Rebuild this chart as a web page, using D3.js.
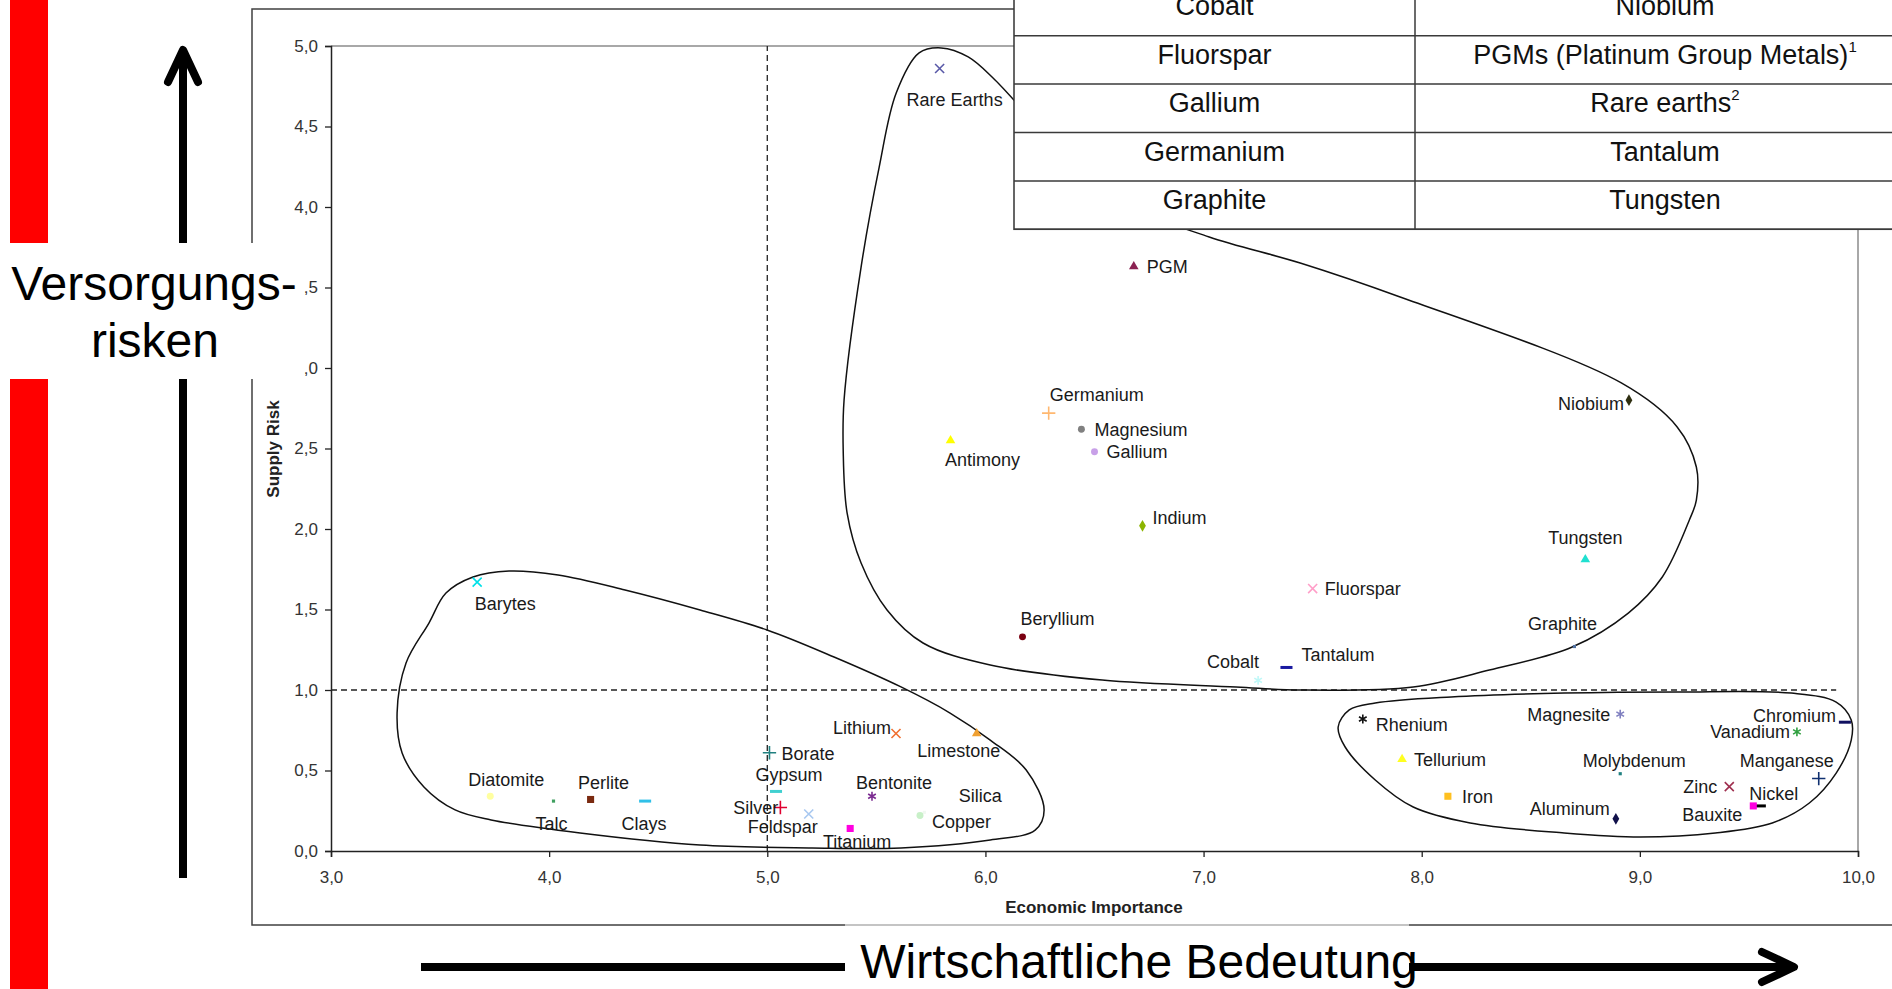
<!DOCTYPE html>
<html>
<head>
<meta charset="utf-8">
<script src="https://cdn.jsdelivr.net/npm/d3@7"></script>
<style>
  body { margin: 0; background: #fff; }
  svg { display: block; font-family: "Liberation Sans", Arial, sans-serif; }
</style>
</head>
<body>
<script>
// values (economic importance, supply risk)
var minerals = ["Rare Earths", "PGM", "Germanium", "Magnesium", "Gallium", "Antimony", "Indium",
  "Niobium", "Tungsten", "Fluorspar", "Graphite", "Beryllium", "Cobalt", "Tantalum",
  "Barytes", "Diatomite", "Talc", "Perlite", "Clays", "Borate", "Gypsum", "Silver", "Feldspar",
  "Titanium", "Lithium", "Limestone", "Bentonite", "Silica", "Copper",
  "Rhenium", "Tellurium", "Iron", "Aluminum", "Magnesite", "Molybdenum", "Chromium",
  "Vanadium", "Manganese", "Zinc", "Nickel", "Bauxite"];
var econImportance = [5.79, 6.68, 6.29, 6.44, 6.50, 5.84, 6.72,
  8.95, 8.75, 7.50, 8.70, 6.17, 7.25, 7.38,
  3.67, 3.73, 4.02, 4.19, 4.44, 5.01, 5.04, 5.06, 5.19,
  5.38, 5.59, 5.96, 5.48, 5.72, 5.70,
  7.73, 7.91, 8.12, 8.89, 8.91, 8.91, 9.94,
  9.72, 9.82, 9.41, 9.55, 9.52];
var supplyRisk = [4.86, 3.63, 2.72, 2.62, 2.48, 2.55, 2.02,
  2.80, 1.81, 1.63, 1.27, 1.33, 1.06, 1.14,
  1.67, 0.34, 0.31, 0.32, 0.31, 0.61, 0.37, 0.27, 0.23,
  0.14, 0.73, 0.73, 0.34, 0.24, 0.22,
  0.82, 0.57, 0.34, 0.20, 0.85, 0.48, 0.80,
  0.74, 0.45, 0.40, 0.28, 0.28];

var xTicks = [3, 4, 5, 6, 7, 8, 9, 10];
var yTicks = [0, 0.5, 1, 1.5, 2, 2.5, 3, 3.5, 4, 4.5, 5];
var riskThreshold = 1.0;
var importanceThreshold = 5.0;

// table of critical raw materials (top right)
var tableLeft = ["Cobalt", "Fluorspar", "Gallium", "Germanium", "Graphite"];
var tableRight = ["Niobium", "PGMs (Platinum Group Metals)", "Rare earths", "Tantalum", "Tungsten"];
var tableNotes = ["", "1", "2", "", ""];

// hand-drawn group outlines, in data units
var loopCritical = [[5.797, 4.988], [5.921, 4.932], [6.044, 4.789], [6.34, 4.36], [6.66, 4.01],
  [7.026, 3.814], [7.443, 3.652], [7.901, 3.441], [8.915, 2.907], [9.171, 2.634], [9.259, 2.385],
  [9.259, 2.18], [9.227, 2.056], [9.103, 1.702], [8.947, 1.478], [8.690, 1.267], [8.310, 1.124],
  [7.961, 1.019], [7.443, 1.0], [7.149, 1.019], [6.535, 1.062], [6.022, 1.155], [5.714, 1.292],
  [5.549, 1.497], [5.430, 1.789], [5.366, 2.099], [5.348, 2.491], [5.352, 2.801], [5.430, 3.627],
  [5.513, 4.248], [5.591, 4.708], [5.696, 4.957]];
var loopLowRisk = [[3.527, 1.602], [3.651, 1.702], [3.816, 1.739], [4.041, 1.714], [4.348, 1.621],
  [4.692, 1.497], [4.999, 1.373], [5.306, 1.205], [5.613, 1.019], [5.838, 0.857], [6.022, 0.689],
  [6.187, 0.503], [6.269, 0.255], [6.228, 0.130], [6.022, 0.068], [5.613, 0.019], [5.205, 0.019],
  [4.692, 0.037], [4.142, 0.112], [3.734, 0.193], [3.569, 0.255], [3.426, 0.398], [3.326, 0.609],
  [3.303, 0.857], [3.344, 1.168], [3.449, 1.416]];
var loopImportant = [[7.617, 0.770], [7.668, 0.876], [7.787, 0.919], [8.135, 0.957], [8.653, 0.981],
  [9.171, 0.988], [9.694, 0.981], [9.900, 0.925], [9.969, 0.814], [9.969, 0.689], [9.900, 0.484],
  [9.777, 0.298], [9.607, 0.174], [9.346, 0.112], [9.002, 0.087], [8.653, 0.112], [8.222, 0.174],
  [7.961, 0.273], [7.787, 0.441], [7.649, 0.646]];

// marker shape and colour per mineral
var markerStyle = {
  "Rare Earths": ["x", "#5a5aa8"], "PGM": ["tri", "#8b2252"], "Germanium": ["plus", "#ffb870"],
  "Magnesium": ["circle", "#808080"], "Gallium": ["circle", "#c8a0e8"], "Antimony": ["tri", "#ffff00"],
  "Indium": ["diamond", "#8cb400"], "Niobium": ["diamond", "#2e2e10"], "Tungsten": ["tri", "#20e0d0"],
  "Fluorspar": ["x", "#ff9ec8"], "Graphite": ["dot", "#5070a0"], "Beryllium": ["circle", "#7a0010"],
  "Cobalt": ["star", "#c0f8f8"], "Tantalum": ["dash", "#1a1aa0"], "Barytes": ["x", "#00e0e8"],
  "Diatomite": ["circle", "#ffffa0"], "Talc": ["dot", "#40a060"], "Perlite": ["square", "#7a2a10"],
  "Clays": ["dash", "#30c0e8"], "Borate": ["plus", "#208080"], "Gypsum": ["dash", "#40d0d0"],
  "Silver": ["plus", "#e00030"], "Feldspar": ["x", "#a8c8f0"], "Titanium": ["square", "#ff00e0"],
  "Lithium": ["x", "#f07030"], "Limestone": ["tri", "#f0a030"], "Bentonite": ["star", "#7a2a90"],
  "Silica": ["dot", "#f0f8f0"], "Copper": ["circle", "#c8f0c8"], "Rhenium": ["star", "#111111"],
  "Tellurium": ["tri", "#ffff20"], "Iron": ["square", "#ffc020"], "Aluminum": ["diamond", "#10104a"],
  "Magnesite": ["star", "#8080c0"], "Molybdenum": ["dot", "#208080"], "Chromium": ["dash", "#101060"],
  "Vanadium": ["star", "#30a040"], "Manganese": ["plus", "#103070"], "Zinc": ["x", "#a03050"],
  "Nickel": ["dash", "#000000"], "Bauxite": ["square", "#ff00e0"]
};

// label placement: [dx, dy, anchor]
var labelPos = {
  "Rare Earths": [15, 31, "middle"], "PGM": [13, 0, "start"], "Germanium": [48, -19, "middle"],
  "Magnesium": [13, 0, "start"], "Gallium": [12, 0, "start"], "Antimony": [32, 19, "middle"],
  "Indium": [10, -8, "start"], "Niobium": [-5, 3, "end"], "Tungsten": [0, -22, "middle"],
  "Fluorspar": [12, 0, "start"], "Graphite": [-12, -23, "middle"], "Beryllium": [-2, -18, "start"],
  "Cobalt": [-25, -19, "middle"], "Tantalum": [15, -13, "start"], "Barytes": [28, 21, "middle"],
  "Diatomite": [16, -17, "middle"], "Talc": [-2, 22, "middle"], "Perlite": [13, -17, "middle"],
  "Clays": [-1, 22, "middle"], "Borate": [12, 1, "start"], "Gypsum": [13, -17, "middle"],
  "Silver": [-2, 0, "end"], "Feldspar": [-26, 13, "middle"], "Titanium": [7, 13, "middle"],
  "Lithium": [-5, -6, "end"], "Limestone": [-18, 17, "middle"], "Bentonite": [22, -14, "middle"],
  "Silica": [56, -17, "middle"], "Copper": [12, 6, "start"], "Rhenium": [13, 6, "start"],
  "Tellurium": [12, 0, "start"], "Iron": [14, 0, "start"], "Aluminum": [-6, -10, "end"],
  "Magnesite": [-10, 0, "end"], "Molybdenum": [14, -13, "middle"], "Chromium": [-9, -7, "end"],
  "Vanadium": [-7, 0, "end"], "Manganese": [-32, -18, "middle"], "Zinc": [-12, 0, "end"],
  "Nickel": [14, -12, "middle"], "Bauxite": [-11, 9, "end"]
};

var W = 1892, H = 989;
var svg = d3.select("body").append("svg").attr("width", W).attr("height", H);

var x = d3.scaleLinear().domain([3, 10]).range([331, 1858]);
var y = d3.scaleLinear().domain([0, 5]).range([851, 46]);
var fmt = d3.formatLocale({decimal: ",", thousands: ".", grouping: [3], currency: ["", ""]}).format(".1f");

// red bar on the left
svg.append("rect").attr("x", 10).attr("y", 0).attr("width", 38).attr("height", H).attr("fill", "#ff0000");

// chart frame
svg.append("rect").attr("x", 252).attr("y", 9).attr("width", 1750).attr("height", 916)
  .attr("fill", "none").attr("stroke", "#404040").attr("stroke-width", 1.5);

// plot area border (top and right)
svg.append("path")
  .attr("d", "M" + x(3) + "," + y(5) + "H" + x(10) + "V" + y(0))
  .attr("fill", "none").attr("stroke", "#8c8c8c").attr("stroke-width", 1.5);

// threshold lines
svg.append("line")
  .attr("x1", x(importanceThreshold)).attr("x2", x(importanceThreshold))
  .attr("y1", y(0)).attr("y2", y(5))
  .attr("stroke", "#222").attr("stroke-width", 1.3).attr("stroke-dasharray", "6,4");
svg.append("line")
  .attr("x1", x(3)).attr("x2", x(9.9))
  .attr("y1", y(riskThreshold)).attr("y2", y(riskThreshold))
  .attr("stroke", "#222").attr("stroke-width", 1.3).attr("stroke-dasharray", "6,4");

// group outlines
var loopLine = d3.line()
  .x(function(d) { return x(d[0]); })
  .y(function(d) { return y(d[1]); })
  .curve(d3.curveCatmullRomClosed.alpha(0.5));
svg.selectAll(".loop")
  .data([loopCritical, loopLowRisk, loopImportant])
  .enter().append("path")
  .attr("class", "loop")
  .attr("d", loopLine)
  .attr("fill", "none").attr("stroke", "#111").attr("stroke-width", 1.5);

// axes
var xAxis = svg.append("g").attr("transform", "translate(0," + y(0) + ")")
  .call(d3.axisBottom(x).tickValues(xTicks).tickFormat(fmt).tickSize(6).tickPadding(14));
var yAxis = svg.append("g").attr("transform", "translate(" + x(3) + ",0)")
  .call(d3.axisLeft(y).tickValues(yTicks).tickFormat(fmt).tickSize(6).tickPadding(7));
[xAxis, yAxis].forEach(function(g) {
  g.select(".domain").attr("stroke", "#222").attr("stroke-width", 1.5);
  g.selectAll(".tick line").attr("stroke", "#222").attr("stroke-width", 1.3);
  g.selectAll(".tick text").attr("font-family", "Liberation Sans, Arial, sans-serif")
    .attr("font-size", 17).attr("fill", "#333");
});

svg.append("text").attr("x", 1094).attr("y", 913)
  .attr("text-anchor", "middle").attr("font-size", 17).attr("font-weight", "bold").attr("fill", "#222")
  .text("Economic Importance");
svg.append("text").attr("transform", "translate(279,449) rotate(-90)")
  .attr("text-anchor", "middle").attr("font-size", 17).attr("font-weight", "bold").attr("fill", "#222")
  .text("Supply Risk");

// markers
var dashSymbol = { draw: function(ctx, size) { var w = Math.sqrt(size) * 0.55; ctx.moveTo(-w, 0); ctx.lineTo(w, 0); } };
var symbolTypes = {
  circle: [d3.symbolCircle, 38, true], tri: [d3.symbolTriangle, 40, true], diamond: [d3.symbolDiamond, 40, true],
  square: [d3.symbolSquare, 50, true], dot: [d3.symbolSquare, 10, true],
  x: [d3.symbolX, 55, false], plus: [d3.symbolPlus, 60, false], star: [d3.symbolAsterisk, 55, false],
  dash: [dashSymbol, 120, false]
};

var pts = minerals.map(function(name, i) {
  return { name: name, ei: econImportance[i], sr: supplyRisk[i] };
});

svg.selectAll(".mk").data(pts).enter().append("path")
  .attr("class", "mk")
  .attr("transform", function(d) { return "translate(" + x(d.ei) + "," + y(d.sr) + ")"; })
  .attr("d", function(d) {
    var t = symbolTypes[markerStyle[d.name][0]];
    return d3.symbol().type(t[0]).size(t[1])();
  })
  .attr("fill", function(d) { return symbolTypes[markerStyle[d.name][0]][2] ? markerStyle[d.name][1] : "none"; })
  .attr("stroke", function(d) { return symbolTypes[markerStyle[d.name][0]][2] ? "none" : markerStyle[d.name][1]; })
  .attr("stroke-width", function(d) { return markerStyle[d.name][0] === "dash" ? 3 : 1.6; });

svg.selectAll(".lbl").data(pts).enter().append("text")
  .attr("class", "lbl")
  .attr("x", function(d) { return x(d.ei) + labelPos[d.name][0]; })
  .attr("y", function(d) { return y(d.sr) + labelPos[d.name][1]; })
  .attr("dy", "0.36em")
  .attr("text-anchor", function(d) { return labelPos[d.name][2]; })
  .attr("font-size", 18).attr("fill", "#1a1a1a")
  .text(function(d) { return d.name; });

// table overlay
var tX0 = 1014, tX1 = 1415, tX2 = 1960, rowH = 48.4, tY0 = 35.7 - 48.4;
var table = svg.append("g");
table.append("rect").attr("x", tX0).attr("y", -5).attr("width", tX2 - tX0).attr("height", tY0 + rowH * 5 + 5)
  .attr("fill", "#fff").attr("stroke", "#333").attr("stroke-width", 1.5);
table.selectAll(".rowline").data(d3.range(1, 6)).enter().append("line")
  .attr("x1", tX0).attr("x2", tX2)
  .attr("y1", function(i) { return tY0 + i * rowH; }).attr("y2", function(i) { return tY0 + i * rowH; })
  .attr("stroke", "#3a3a3a").attr("stroke-width", 1.5);
table.append("line").attr("x1", tX1).attr("x2", tX1).attr("y1", 0).attr("y2", tY0 + 5 * rowH)
  .attr("stroke", "#3a3a3a").attr("stroke-width", 1.5);
table.selectAll(".cl").data(tableLeft).enter().append("text")
  .attr("x", (tX0 + tX1) / 2).attr("y", function(d, i) { return tY0 + i * rowH + 28; })
  .attr("text-anchor", "middle").attr("font-size", 27).attr("fill", "#111")
  .text(function(d) { return d; });
var cr = table.selectAll(".cr").data(tableRight).enter().append("text")
  .attr("x", 1665).attr("y", function(d, i) { return tY0 + i * rowH + 28; })
  .attr("text-anchor", "middle").attr("font-size", 27).attr("fill", "#111");
cr.append("tspan").text(function(d) { return d; });
cr.append("tspan").attr("dy", -12).attr("font-size", 15).text(function(d, i) { return tableNotes[i]; });

// big arrows
var arrows = svg.append("g").attr("stroke", "#000").attr("stroke-width", 8)
  .attr("fill", "none").attr("stroke-linecap", "round").attr("stroke-linejoin", "round");
arrows.append("line").attr("x1", 183).attr("x2", 183).attr("y1", 878).attr("y2", 52).attr("stroke-linecap", "butt");
arrows.append("path").attr("d", "M168,82L183,50L198,82");
arrows.append("line").attr("x1", 421).attr("x2", 1790).attr("y1", 967).attr("y2", 967).attr("stroke-linecap", "butt");
arrows.append("path").attr("d", "M1762,952L1794,967L1762,982");

// captions on white boxes
svg.append("rect").attr("x", 0).attr("y", 243).attr("width", 304).attr("height", 136).attr("fill", "#fff");
svg.append("text").attr("x", 154).attr("y", 300).attr("text-anchor", "middle")
  .attr("font-size", 48).attr("fill", "#000").text("Versorgungs-");
svg.append("text").attr("x", 155).attr("y", 357).attr("text-anchor", "middle")
  .attr("font-size", 48).attr("fill", "#000").text("risken");

svg.append("rect").attr("x", 845).attr("y", 926).attr("width", 564).attr("height", 63).attr("fill", "#fff");
svg.append("line").attr("x1", 845).attr("x2", 1409).attr("y1", 925).attr("y2", 925)
  .attr("stroke", "#e0e0e0").attr("stroke-width", 1.5);
svg.append("text").attr("x", 1139).attr("y", 978).attr("text-anchor", "middle")
  .attr("font-size", 48).attr("fill", "#000").text("Wirtschaftliche Bedeutung");
</script>
</body>
</html>
